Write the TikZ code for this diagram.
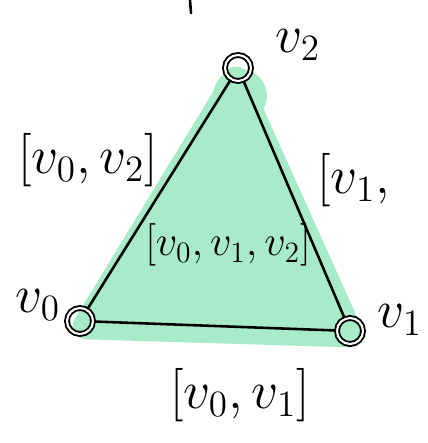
\documentclass[tikz,border=0pt]{standalone}
\usepackage{amsmath,amssymb}
\usetikzlibrary{positioning}
\definecolor{mint}{HTML}{A8EBC8}
\tikzset{
  vtx/.style={circle, draw, line width=1.6pt, minimum size=0.78cm, inner sep=0pt, double, double distance=1.8pt},
  lbl/.style={font=\huge, scale=2.2},
  facelbl/.style={font=\huge, scale=1.75},
}

\begin{document}
\begin{tikzpicture}[x=0.03cm, y=-0.03cm, line width=2.2pt]
\useasboundingbox (0,0) rectangle (428,443);
% shaded face
\fill[mint, draw=mint, line width=0.8cm, line join=round] (86,326) -- (350,334) -- (236,80) -- cycle;
\fill[mint] (240,96) circle (27);
% vertices
\node[vtx] (v0) at (80,321) {};
\node[vtx] (v1) at (350,331) {};
\node[vtx] (v2) at (238,68) {};
% edges
\draw (v0) -- (v1);
\draw (v1) -- (v2);
\draw (v2) -- (v0);
% labels
\node[lbl] (lv2) at (298,45) {$v_2$};
\node[lbl] (lv0) at (38,305) {$v_0$};
\node[lbl] (lv1) at (400,320) {$v_1$};
\node[lbl] (l02) at (88,160) {$[v_0,v_2]$};
\node[lbl, anchor=west] (l12) at (306,180) {$[v_1,$};
\node[lbl] (l01) at (240,395) {$[v_0,v_1]$};
\node[facelbl] (l012) at (228,245) {$[v_0,v_1,v_2]$};
\draw[line cap=round] (190,0) -- (191,13);
\end{tikzpicture}
\end{document}
